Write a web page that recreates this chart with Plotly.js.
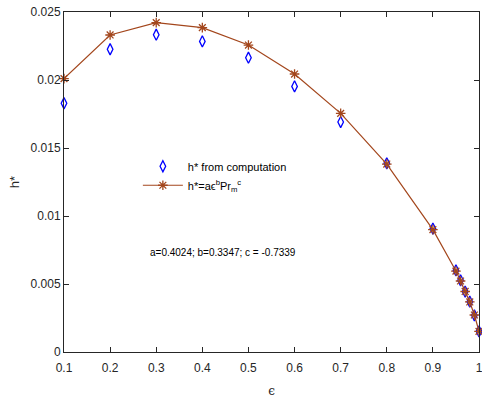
<!DOCTYPE html>
<html>
<head>
<meta charset="utf-8">
<script src="https://cdn.plot.ly/plotly-3.0.1.min.js"></script>
<style>html,body{margin:0;padding:0;background:#fff;}#chart{width:482px;height:398px;}</style>
</head>
<body>
<div id="chart"></div>
<script>
const eps = [0.1, 0.2, 0.3, 0.4, 0.5, 0.6, 0.7, 0.8, 0.9, 0.95, 0.96, 0.97, 0.98, 0.99, 1.0];
const hComputed = [0.01829, 0.02226, 0.02333, 0.02284, 0.02164, 0.01953, 0.01691, 0.01387, 0.00907, 0.00600, 0.00527, 0.00444, 0.00370, 0.00270, 0.00152];
const hFit = [0.02010, 0.02331, 0.02422, 0.02385, 0.02257, 0.02044, 0.01755, 0.01382, 0.00900, 0.00595, 0.00522, 0.00445, 0.00368, 0.00272, 0.00152];
const xTicks = [0.1, 0.2, 0.3, 0.4, 0.5, 0.6, 0.7, 0.8, 0.9, 1];
const xTickText = ['0.1', '0.2', '0.3', '0.4', '0.5', '0.6', '0.7', '0.8', '0.9', '1'];
const yTicks = [0, 0.005, 0.01, 0.015, 0.02, 0.025];
const yTickText = ['0', '0.005', '0.01', '0.015', '0.02', '0.025'];
const fitLabel = 'h*=a\u03F5<sup>b</sup>Pr<sub>m</sub><sup>c</sup>';
const paramText = 'a=0.4024; b=0.3347; c = -0.7339';

const traces = [
  {
    x: eps, y: hComputed, mode: 'markers', type: 'scatter',
    name: 'h* from computation', cliponaxis: false,
    marker: {symbol: 'diamond-tall-open', size: 8, color: '#0000FF', line: {width: 1.3, color: '#0000FF'}}
  },
  {
    x: eps, y: hFit, mode: 'lines+markers', type: 'scatter',
    name: fitLabel, cliponaxis: false,
    line: {color: '#A3461C', width: 1.2},
    marker: {symbol: 'asterisk-open', size: 8, color: '#A3461C', line: {width: 1.3, color: '#A3461C'}}
  }
];

const axisCommon = {
  showgrid: false, zeroline: false, showline: true, mirror: 'ticks',
  linecolor: '#262626', linewidth: 1, ticks: 'inside', ticklen: 5,
  tickcolor: '#262626', tickfont: {family: 'Liberation Sans, Arial, sans-serif', size: 12, color: '#262626'}
};

const layout = {
  width: 482, height: 398,
  margin: {l: 64, r: 3, t: 12, b: 46, autoexpand: false},
  paper_bgcolor: '#fff', plot_bgcolor: '#fff',
  showlegend: true,
  legend: {
    x: 0.178, y: 0.589, xanchor: 'left', yanchor: 'top',
    bgcolor: 'rgba(0,0,0,0)', borderwidth: 0, itemwidth: 40,
    font: {family: 'Liberation Sans, Arial, sans-serif', size: 11, color: '#000'},
    tracegroupgap: 0
  },
  xaxis: Object.assign({}, axisCommon, {
    range: [0.1, 1], tickvals: xTicks, ticktext: xTickText, ticklabelstandoff: 5,
    ticklabeloverflow: 'allow', automargin: false,
    title: {text: '\u03F5', font: {family: 'DejaVu Serif, serif', size: 12, color: '#262626'}, standoff: 12}
  }),
  yaxis: Object.assign({}, axisCommon, {
    range: [0, 0.025], tickvals: yTicks, ticktext: yTickText, automargin: false,
    title: {text: 'h*', font: {family: 'Liberation Sans, Arial, sans-serif', size: 13, color: '#262626'}, standoff: 8}
  }),
  annotations: [
    {
      x: 0.282, y: 0.00728, xref: 'x', yref: 'y', xanchor: 'left', yanchor: 'middle',
      text: paramText, showarrow: false,
      font: {family: 'Liberation Sans, Arial, sans-serif', size: 10, color: '#000'}
    }
  ]
};

Plotly.newPlot('chart', traces, layout, {staticPlot: true, displayModeBar: false});
</script>
</body>
</html>
